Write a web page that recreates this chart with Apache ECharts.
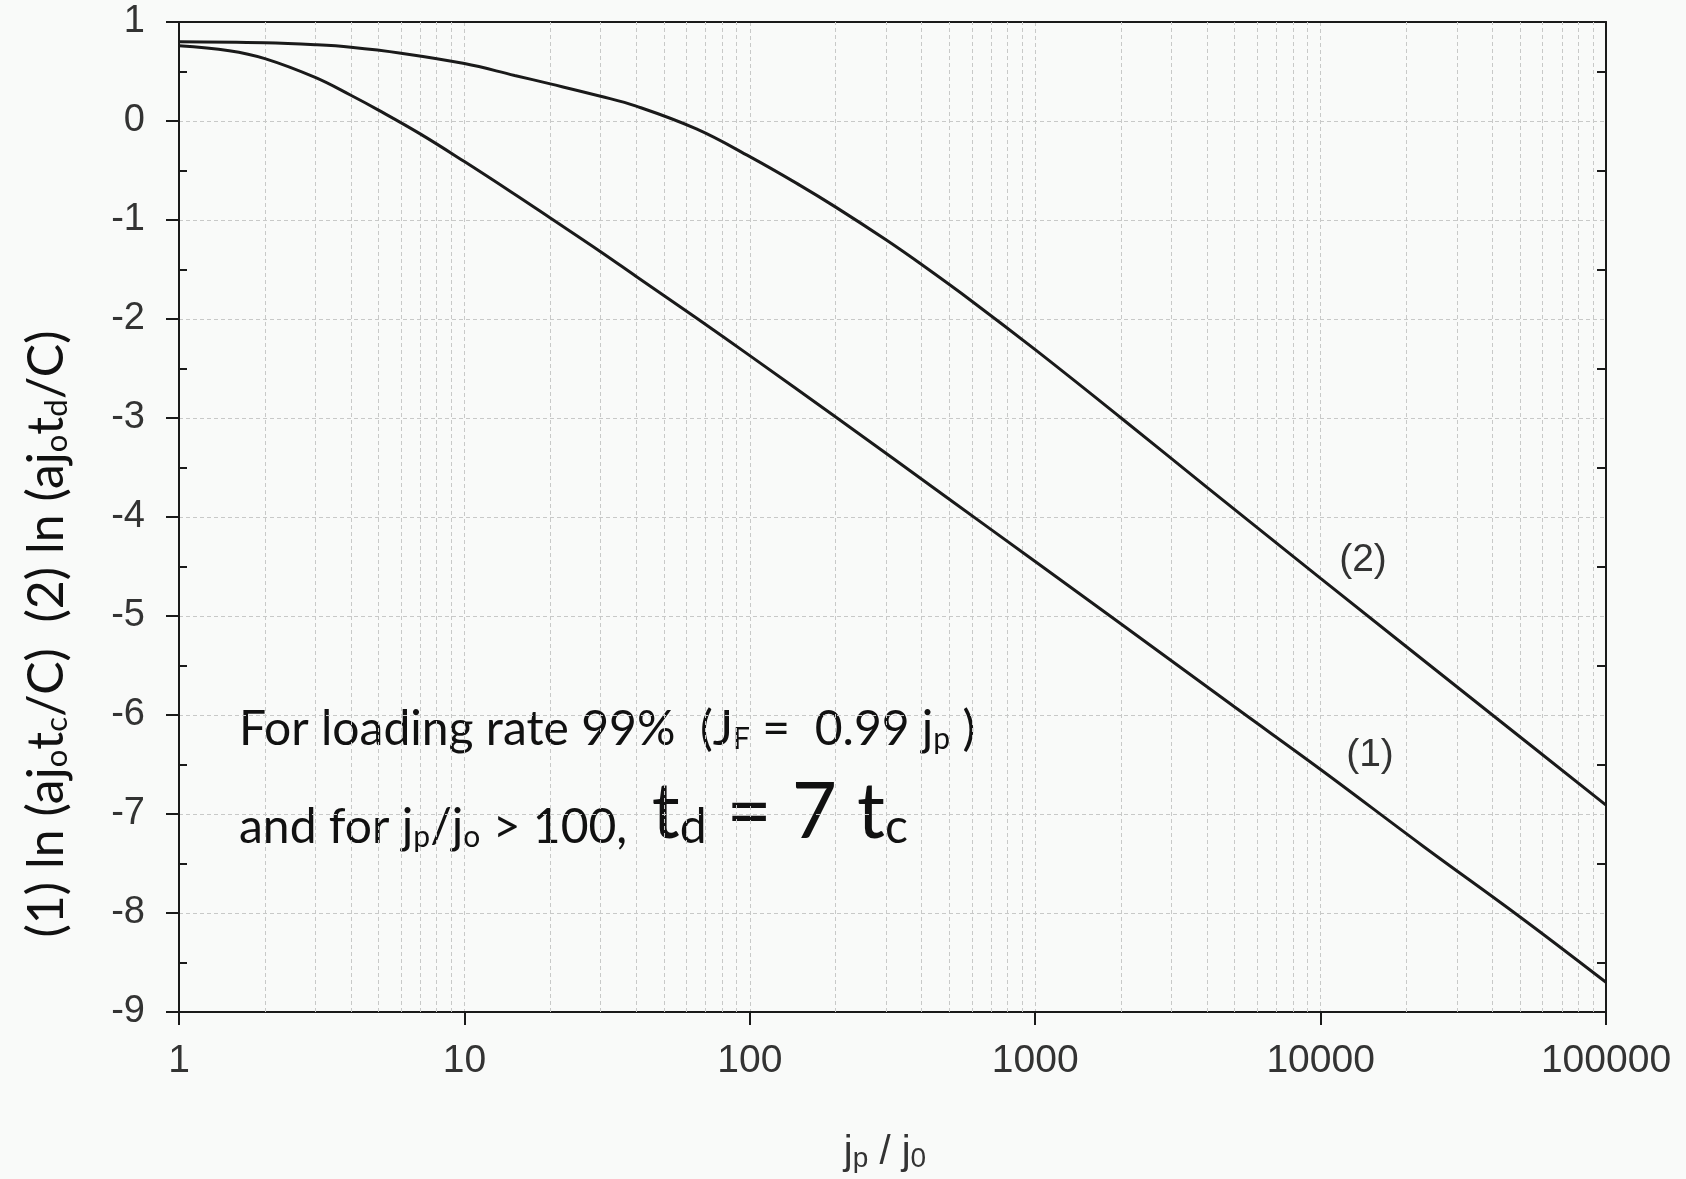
<!DOCTYPE html>
<html>
<head>
<meta charset="utf-8">
<script src="https://cdn.jsdelivr.net/npm/echarts@6/dist/echarts.min.js"></script>
<style>
html, body { margin: 0; padding: 0; background: #f9faf9; }
#chart { width: 1686px; height: 1179px; }
</style>
</head>
<body>
<div id="chart"></div>
<script>
// values
var jRatio1 = [1, 1.5, 2, 3, 4, 5, 7, 10, 15, 20, 30, 40, 65, 100, 200, 500, 1000, 2000, 5000, 10000, 23000, 50000, 100000];
var lnTc = [0.76, 0.71, 0.63, 0.44, 0.26, 0.11, -0.13, -0.41, -0.74, -0.98, -1.32, -1.57, -1.99, -2.37, -2.99, -3.82, -4.45, -5.08, -5.92, -6.55, -7.33, -8.04, -8.70];

var jRatio2 = [1, 2, 3, 4, 6, 10, 15, 20, 30, 40, 65, 100, 150, 200, 300, 400, 600, 1000, 2000, 4000, 10000, 40000, 100000];
var lnTd = [0.80, 0.79, 0.77, 0.745, 0.685, 0.58, 0.46, 0.375, 0.25, 0.15, -0.08, -0.36, -0.65, -0.87, -1.20, -1.45, -1.82, -2.31, -3.00, -3.70, -4.62, -6.00, -6.91];

// ticks
var yMajor = [1, 0, -1, -2, -3, -4, -5, -6, -7, -8, -9];
var yHalf = [0.5, -0.5, -1.5, -2.5, -3.5, -4.5, -5.5, -6.5, -7.5, -8.5];
var xMinorGrid = [];
[1, 10, 100, 1000, 10000].forEach(function (d) {
    for (var k = 2; k <= 9; k++) xMinorGrid.push(k * d);
});

var gridColor = '#c8c9c8';
var inkColor = '#1a1a1a';
var labelColor = '#333333';
var numFont = '"Liberation Sans", Arial, sans-serif';
var noteFont = 'Lato, "Open Sans", sans-serif';

function pairs(xs, ys) {
    var out = [];
    for (var i = 0; i < xs.length; i++) out.push([xs[i], ys[i]]);
    return out;
}

var noteRich = {
    n: { fontSize: 48, lineHeight: 56, verticalAlign: 'bottom', fontFamily: noteFont },
    s: { fontSize: 30, lineHeight: 27, verticalAlign: 'bottom', fontFamily: noteFont },
    b: { fontSize: 78, lineHeight: 74, verticalAlign: 'bottom', fontFamily: noteFont },
    bs: { fontSize: 48, lineHeight: 26, verticalAlign: 'bottom', fontFamily: noteFont }
};

var yNameRich = {
    n: { fontSize: 50, lineHeight: 60, verticalAlign: 'bottom', fontFamily: noteFont },
    s: { fontSize: 31, lineHeight: 28, verticalAlign: 'bottom', fontFamily: noteFont }
};

var frameLine = { show: true, onZero: false, lineStyle: { color: inkColor, width: 2 } };

var myChart = echarts.init(document.getElementById('chart'));

var option = {
    backgroundColor: '#f9faf9',
    animation: false,
    grid: {
        left: 179,
        right: 80,
        top: 22,
        bottom: 167
    },
    xAxis: [{
        type: 'log',
        logBase: 10,
        min: 1,
        max: 100000,
        axisLine: frameLine,
        axisTick: { length: 13, lineStyle: { color: inkColor, width: 2 } },
        axisLabel: {
            margin: 30,
            fontSize: 39,
            fontFamily: numFont,
            color: labelColor,
            formatter: function (v) { return String(Math.round(v)); }
        },
        splitLine: { show: true, lineStyle: { color: gridColor, type: [4, 3], width: 1 } }
    }, {
        type: 'log',
        logBase: 10,
        position: 'top',
        min: 1,
        max: 100000,
        axisLine: frameLine,
        axisTick: { show: false },
        axisLabel: { show: false },
        splitLine: { show: false }
    }],
    yAxis: [{
        type: 'value',
        min: -9,
        max: 1,
        interval: 0.5,
        axisLine: frameLine,
        axisTick: { customValues: yMajor, length: 13, lineStyle: { color: inkColor, width: 2 } },
        axisLabel: {
            customValues: yMajor,
            margin: 34,
            fontSize: 38,
            fontFamily: numFont,
            color: labelColor,
            formatter: function (v) { return String(v); }
        },
        splitLine: { show: true, lineStyle: { color: gridColor, type: [4, 3], width: 1 } }
    }, {
        type: 'value',
        position: 'right',
        min: -9,
        max: 1,
        interval: 0.5,
        axisLine: frameLine,
        axisTick: { customValues: yHalf, inside: true, length: 9, lineStyle: { color: inkColor, width: 2 } },
        axisLabel: { show: false },
        splitLine: { show: false }
    }, {
        type: 'value',
        position: 'left',
        min: -9,
        max: 1,
        interval: 0.5,
        axisLine: { show: false, onZero: false },
        axisTick: { customValues: yHalf, inside: true, length: 8, lineStyle: { color: inkColor, width: 2 } },
        axisLabel: { show: false },
        splitLine: { show: false }
    }],
    series: [{
        name: '(1)',
        type: 'line',
        data: pairs(jRatio1, lnTc),
        smooth: 0.4,
        symbol: 'none',
        lineStyle: { color: inkColor, width: 3 },
        z: 5,
        markLine: {
            silent: true,
            symbol: ['none', 'none'],
            label: { show: false },
            lineStyle: { color: gridColor, type: [4, 3], width: 1 },
            data: xMinorGrid.map(function (v) { return { xAxis: v }; }),
            z: 1
        }
    }, {
        name: '(2)',
        type: 'line',
        data: pairs(jRatio2, lnTd),
        smooth: 0.4,
        symbol: 'none',
        lineStyle: { color: inkColor, width: 3 },
        z: 5
    }],
    graphic: [{
        type: 'text',
        x: 42,
        y: 634,
        rotation: Math.PI / 2,
        style: {
            text: '{n|(1) ln (aj}{s|o}{n|t}{s|c}{n|/C)  (2) ln (aj}{s|o}{n|t}{s|d}{n|/C)}',
            rich: yNameRich,
            fill: '#111',
            align: 'center',
            verticalAlign: 'middle'
        }
    }, {
        type: 'text',
        x: 885,
        y: 1150,
        style: {
            text: '{n|j}{s|p}{n| / j}{s|0}',
            rich: {
                n: { fontSize: 40, lineHeight: 46, verticalAlign: 'bottom', fontFamily: numFont },
                s: { fontSize: 28, lineHeight: 22, verticalAlign: 'bottom', fontFamily: numFont }
            },
            fill: labelColor,
            align: 'center',
            verticalAlign: 'middle'
        }
    }, {
        type: 'text',
        x: 1363,
        y: 560,
        style: { text: '(2)', fontSize: 39, fontFamily: numFont, fill: labelColor, align: 'center', verticalAlign: 'middle' }
    }, {
        type: 'text',
        x: 1370,
        y: 755,
        style: { text: '(1)', fontSize: 39, fontFamily: numFont, fill: labelColor, align: 'center', verticalAlign: 'middle' }
    }, {
        type: 'text',
        x: 239,
        y: 754,
        style: {
            text: '{n|For loading rate 99%  (J}{s|F}{n| =  0.99 j}{s|p}{n| )}',
            rich: noteRich,
            fill: '#111',
            align: 'left',
            verticalAlign: 'bottom'
        }
    }, {
        type: 'text',
        x: 239,
        y: 852,
        style: {
            text: '{n|and for j}{s|p}{n|/j}{s|o}{n| > 100,  }{b|t}{bs|d}{b| = 7 t}{bs|c}',
            rich: noteRich,
            fill: '#111',
            align: 'left',
            verticalAlign: 'bottom'
        }
    }]
};

myChart.setOption(option);
</script>
</body>
</html>
